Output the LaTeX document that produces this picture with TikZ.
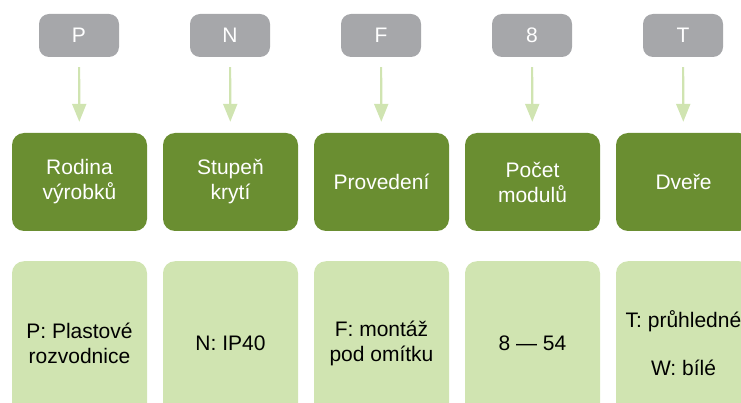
\documentclass[tikz,border=0pt]{standalone}
\usepackage{fontspec}
\setmainfont{Liberation Sans}
\usetikzlibrary{arrows.meta,positioning}

\definecolor{codegray}{HTML}{A6A7AA}
\definecolor{darkgreen}{HTML}{6A8E31}
\definecolor{lightgreen}{HTML}{D0E4B1}

\tikzset{
  codebox/.style={fill=codegray,rounded corners=10pt,minimum width=80pt,
    minimum height=43pt,text=white,font=\fontsize{21}{25}\selectfont},
  catbox/.style={fill=darkgreen,rounded corners=12pt,minimum width=135pt,
    minimum height=98pt,text=white,align=center,font=\fontsize{21}{25}\selectfont},
  valbox/.style={fill=lightgreen,rounded corners=12pt,minimum width=135pt,
    minimum height=164pt,anchor=north,text=black,align=center,
    font=\fontsize{21}{25}\selectfont},
  codearrow/.style={draw=lightgreen,line width=2.2pt,
    -{Triangle[width=14pt,length=18pt]},shorten <=10pt,shorten >=11pt}
}

\begin{document}
\begin{tikzpicture}[x=1pt,y=-1pt]
    \useasboundingbox (0,0) rectangle (741,403);

    % one column for each letter of the code
    \foreach \i/\code/\cat/\val in {
      0/P/Rodina\\výrobků/P: Plastové\\rozvodnice,
      1/N/Stupeň\\krytí/N: IP40,
      2/F/Provedení/F: montáž\\pod omítku,
      3/8/Počet\\modulů/8 — 54,
      4/T/Dveře/T: průhledné\\[23pt]W: bílé
    } {
      % code letter on top
      \node[codebox] (code\i) at (79+151*\i,35.5) {\code};
      % meaning of the letter
      \node[catbox] (cat\i) at (79.5+151*\i,182) {\cat};
      % possible values
      \node[valbox] (val\i) at (79.5+151*\i,261) {\val};
      % arrow from letter down to its meaning
      \draw[codearrow] (code\i) -- (cat\i);
    }
  \end{tikzpicture}
\end{document}
